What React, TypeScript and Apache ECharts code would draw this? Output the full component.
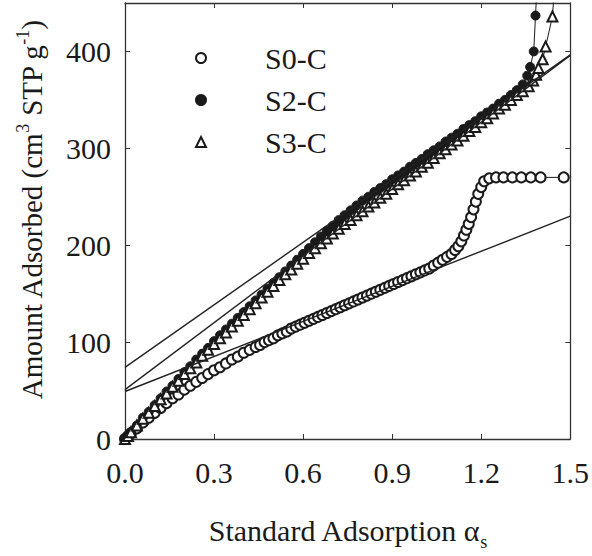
import React, { useEffect, useRef } from "react";
import * as echarts from "echarts";

const FONT = "'Liberation Serif', 'Times New Roman', serif";

const X_TICKS = [0, 0.3, 0.6, 0.9, 1.2, 1.5];
const Y_TICKS = [0, 100, 200, 300, 400];
const SERIES_NAMES = ["S0-C", "S2-C", "S3-C"];

const s0Data: [number, number][] = [
  [0, 0], [0.01, 3], [0.02, 6], [0.04, 11], [0.06, 17], [0.08, 22], [0.10, 27], [0.12, 32],
  [0.14, 37], [0.16, 42], [0.18, 46], [0.20, 51], [0.22, 55], [0.24, 59], [0.26, 63], [0.28, 67],
  [0.30, 71], [0.32, 74], [0.34, 78], [0.36, 82], [0.38, 85], [0.40, 89], [0.42, 92], [0.44, 95],
  [0.455, 97], [0.47, 100], [0.485, 102], [0.50, 104], [0.515, 107], [0.53, 109], [0.545, 111],
  [0.56, 114], [0.575, 116], [0.59, 118], [0.605, 120], [0.62, 122], [0.635, 124], [0.65, 126],
  [0.665, 128], [0.68, 130], [0.695, 132], [0.71, 134], [0.725, 136], [0.74, 138], [0.755, 140],
  [0.77, 142], [0.785, 144], [0.80, 146], [0.815, 148], [0.83, 150], [0.845, 152], [0.86, 154],
  [0.875, 156], [0.89, 158], [0.905, 160], [0.92, 162], [0.935, 164], [0.95, 166], [0.965, 168],
  [0.98, 170], [0.995, 172], [1.01, 174], [1.025, 176], [1.04, 179], [1.055, 182], [1.07, 185],
  [1.085, 188], [1.10, 191], [1.112, 195], [1.123, 199], [1.133, 204], [1.142, 210], [1.15, 216],
  [1.158, 222], [1.166, 229], [1.174, 237], [1.182, 245], [1.19, 253], [1.20, 260], [1.21, 266],
  [1.227, 269], [1.25, 270], [1.275, 270], [1.305, 270], [1.335, 270], [1.367, 270], [1.40, 270],
  [1.478, 270],
];

const s2Data: [number, number][] = [
  [0, 0], [0.01, 4], [0.02, 7], [0.04, 14], [0.06, 22], [0.08, 28], [0.10, 35], [0.12, 42],
  [0.14, 49], [0.16, 55], [0.18, 62], [0.20, 69], [0.22, 75], [0.24, 82], [0.26, 88], [0.28, 94],
  [0.30, 101], [0.32, 107], [0.34, 113], [0.36, 119], [0.38, 125], [0.40, 131], [0.42, 137],
  [0.44, 143], [0.46, 149], [0.48, 155], [0.50, 161], [0.52, 167], [0.54, 173], [0.56, 179],
  [0.58, 185], [0.60, 191], [0.62, 197], [0.64, 203], [0.66, 209], [0.68, 215], [0.70, 220],
  [0.72, 226], [0.74, 231], [0.76, 236], [0.78, 241], [0.80, 246], [0.82, 250], [0.84, 255],
  [0.86, 259], [0.88, 263], [0.90, 268], [0.92, 272], [0.94, 276], [0.96, 281], [0.98, 285],
  [1.00, 289], [1.02, 294], [1.04, 298], [1.06, 302], [1.08, 307], [1.10, 311], [1.12, 315],
  [1.14, 320], [1.16, 324], [1.18, 328], [1.20, 333], [1.22, 337], [1.24, 341], [1.26, 346],
  [1.28, 350], [1.30, 355], [1.32, 360], [1.34, 366], [1.355, 375], [1.365, 384], [1.377, 400],
  [1.383, 437], [1.39, 480],
];

const s3Data: [number, number][] = [
  [0, 0], [0.01, 3], [0.02, 7], [0.04, 14], [0.06, 21], [0.08, 27], [0.10, 34], [0.12, 41],
  [0.14, 47], [0.16, 54], [0.18, 60], [0.20, 67], [0.22, 73], [0.24, 79], [0.26, 86], [0.28, 92],
  [0.30, 98], [0.32, 104], [0.34, 110], [0.36, 116], [0.38, 122], [0.40, 128], [0.42, 134],
  [0.44, 140], [0.46, 146], [0.48, 152], [0.50, 158], [0.52, 164], [0.54, 170], [0.56, 175],
  [0.58, 181], [0.60, 186], [0.62, 192], [0.64, 197], [0.66, 202], [0.68, 207], [0.70, 212],
  [0.72, 217], [0.74, 222], [0.76, 226], [0.78, 231], [0.80, 235], [0.82, 240], [0.84, 244],
  [0.86, 249], [0.88, 253], [0.90, 258], [0.92, 263], [0.94, 267], [0.96, 272], [0.98, 276],
  [1.00, 281], [1.02, 285], [1.04, 290], [1.06, 295], [1.08, 299], [1.10, 304], [1.12, 308],
  [1.14, 313], [1.16, 318], [1.18, 322], [1.20, 327], [1.22, 331], [1.24, 336], [1.26, 341],
  [1.28, 345], [1.30, 350], [1.32, 355], [1.34, 359], [1.36, 364], [1.375, 370], [1.385, 376],
  [1.393, 383], [1.407, 392], [1.417, 405], [1.44, 436], [1.45, 480],
];

// linear alpha-s fits: [alpha_s, amount] at both ends of the axis
const fitS2: [number, number][] = [[0, 74], [1.5, 396.5]];
const fitS3: [number, number][] = [[0, 51], [1.5, 396]];
const fitS0: [number, number][] = [[0, 49], [1.5, 230]];

export default function App() {
  const ref = useRef<HTMLDivElement>(null);

  useEffect(() => {
    if (!ref.current) return;
    const chart = echarts.init(ref.current, null, { renderer: "svg" });
    const ink = "#1a1a1a";
    const axisLine = { show: true, onZero: false, lineStyle: { color: "#333", width: 1.3 } };
    const tick = { show: true, inside: true, length: 5, lineStyle: { color: "#333", width: 1 } };

    const dataSeries = (name: string, data: [number, number][], symbol: string) => ({
      name,
      type: "line",
      data,
      symbol,
      symbolSize: symbol === "circle" ? 9 : 10,
      showAllSymbol: true,
      clip: true,
      lineStyle: { color: ink, width: 1 },
      itemStyle: { color: ink, borderColor: ink, borderWidth: 1 },
      z: 3,
    });
    const fitSeries = (name: string, data: [number, number][]) => ({
      name,
      type: "line",
      data,
      symbol: "none",
      clip: true,
      lineStyle: { color: "#222", width: 1.4 },
      z: 4,
    });

    chart.setOption({
      animation: false,
      backgroundColor: "#ffffff",
      grid: { left: 125, top: 3, width: 450, height: 442, containLabel: false },
      legend: {
        orient: "vertical",
        left: 190,
        top: 38,
        itemWidth: 10,
        itemHeight: 10,
        itemGap: 12,
        data: [
          { name: SERIES_NAMES[0], icon: "emptyCircle" },
          { name: SERIES_NAMES[1], icon: "circle" },
          { name: SERIES_NAMES[2], icon: "emptyTriangle" },
        ],
        textStyle: { fontSize: 30, fontFamily: FONT, color: ink, padding: [0, 0, 0, 54] },
      },
      xAxis: [
        {
          type: "value",
          min: X_TICKS[0],
          max: X_TICKS[X_TICKS.length - 1],
          interval: 0.3,
          axisLine,
          axisTick: tick,
          splitLine: { show: false },
          axisLabel: {
            margin: 18,
            fontSize: 30,
            fontFamily: FONT,
            color: ink,
            formatter: (v: number) => v.toFixed(1),
          },
          name: "{t|Standard Adsorption α}{sub|s}",
          nameLocation: "middle",
          nameGap: 70,
          nameTextStyle: {
            rich: {
              t: { fontSize: 30, fontFamily: FONT, color: ink, lineHeight: 42 },
              sub: { fontSize: 18, fontFamily: FONT, color: ink, verticalAlign: "bottom", lineHeight: 12 },
            },
          },
        },
        {
          type: "value",
          position: "top",
          min: X_TICKS[0],
          max: X_TICKS[X_TICKS.length - 1],
          interval: 0.3,
          axisLine,
          axisTick: tick,
          axisLabel: { show: false },
          splitLine: { show: false },
        },
      ],
      yAxis: [
        {
          type: "value",
          min: Y_TICKS[0],
          max: 450,
          interval: 100,
          axisLine,
          axisTick: tick,
          splitLine: { show: false },
          axisLabel: {
            margin: 14,
            fontSize: 30,
            fontFamily: FONT,
            color: ink,
            showMaxLabel: false,
            formatter: (v: number) => (Y_TICKS.includes(v) ? String(v) : ""),
          },
          name: "{t|Amount Adsorbed (cm}{sup|3}{t| STP g}{sup|-1}{t|)}",
          nameLocation: "middle",
          nameRotate: 90,
          nameGap: 76,
          nameTextStyle: {
            padding: [0, 0, 0, 22],
            rich: {
              t: { fontSize: 29, fontFamily: FONT, color: ink, lineHeight: 35 },
              sup: { fontSize: 18, fontFamily: FONT, color: ink, verticalAlign: "top", lineHeight: 16 },
            },
          },
        },
        {
          type: "value",
          position: "right",
          min: Y_TICKS[0],
          max: 450,
          interval: 100,
          axisLine,
          axisTick: tick,
          axisLabel: { show: false },
          splitLine: { show: false },
        },
      ],
      series: [
        dataSeries(SERIES_NAMES[0], s0Data, "emptyCircle"),
        dataSeries(SERIES_NAMES[1], s2Data, "circle"),
        dataSeries(SERIES_NAMES[2], s3Data, "emptyTriangle"),
        fitSeries("fit S2-C", fitS2),
        fitSeries("fit S3-C", fitS3),
        fitSeries("fit S0-C", fitS0),
      ],
    });

    return () => chart.dispose();
  }, []);

  return (
    <div
      ref={ref}
      style={{ position: "fixed", left: 0, top: 0, width: 592, height: 556 }}
    />
  );
}
